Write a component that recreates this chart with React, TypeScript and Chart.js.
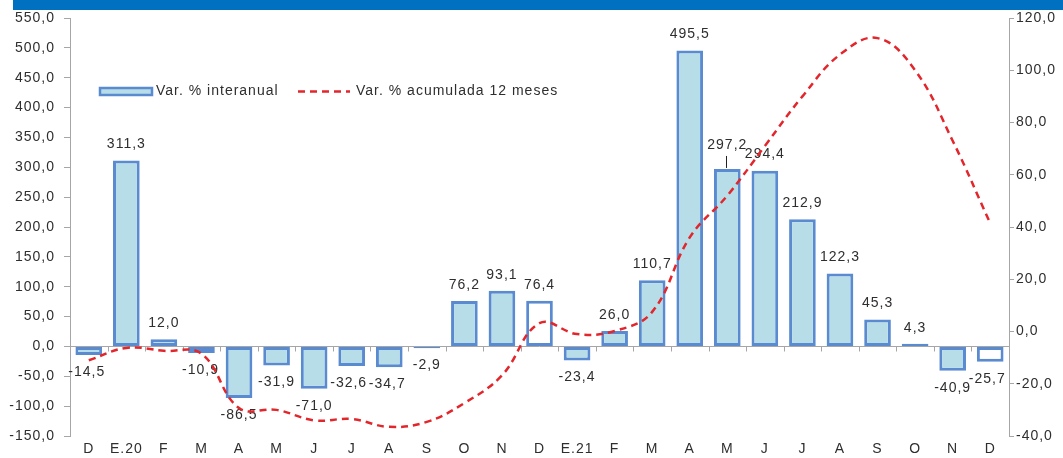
import React, { useEffect, useRef } from 'react';
import { Chart, registerables } from 'chart.js';

Chart.register(...registerables);

const categories = ['D', 'E.20', 'F', 'M', 'A', 'M', 'J', 'J', 'A', 'S', 'O', 'N', 'D', 'E.21', 'F', 'M', 'A', 'M', 'J', 'J', 'A', 'S', 'O', 'N', 'D'];
const interanual = [-14.5, 311.3, 12.0, -10.9, -86.5, -31.9, -71.0, -32.6, -34.7, -2.9, 76.2, 93.1, 76.4, -23.4, 26.0, 110.7, 495.5, 297.2, 294.4, 212.9, 122.3, 45.3, 4.3, -40.9, -25.7];
const acumulada = [-11, -6.3, -7.4, -8.5, -29.3, -30, -34, -33.5, -36.5, -34.6, -27.4, -16.8, 3.2, -1, 0.2, 7.5, 36, 52, 71, 90, 106, 112.3, 100, 73, 41.4];
const openBars = [12, 24];
const leftAxis = { min: -150, max: 550, step: 50 };
const rightAxis = { min: -40, max: 120, step: 20 };
const seriesNames = ['Var. % interanual', 'Var. % acumulada 12 meses'];

const FONT = '"Liberation Sans", Arial, sans-serif';
const TEXT = '#2e2e2e';
const AXIS = '#a6a6a6';
const BAR_FILL = '#b7dee8';
const BAR_BORDER = '#5a8bd0';
const RED = '#e3262b';

const fmt = (v: number) => Number(v).toFixed(1).replace('.', ',');

export default function App() {
  const ref = useRef<HTMLCanvasElement>(null);

  useEffect(() => {
    const canvas = ref.current!;

    const spacing = {
      id: 'spacing',
      beforeLayout(c: any) { c.ctx.letterSpacing = '1px'; },
      beforeDraw(c: any) { c.ctx.letterSpacing = '1px'; },
    };

    const zeroLine = {
      id: 'zeroLine',
      beforeDatasetsDraw(c: any) {
        const { ctx, chartArea, scales } = c;
        const y0 = Math.round(scales.y.getPixelForValue(0)) + 0.5;
        ctx.save();
        ctx.strokeStyle = AXIS;
        ctx.lineWidth = 1;
        ctx.beginPath();
        ctx.moveTo(chartArea.left, y0);
        ctx.lineTo(chartArea.right, y0);
        const n = categories.length;
        for (let i = 0; i <= n; i++) {
          let x;
          if (i === 0) x = chartArea.left;
          else if (i === n) x = chartArea.right;
          else x = (scales.x.getPixelForValue(i - 1) + scales.x.getPixelForValue(i)) / 2;
          x = Math.round(x) + 0.5;
          ctx.moveTo(x, y0);
          ctx.lineTo(x, y0 + 5);
        }
        ctx.stroke();
        ctx.restore();
      },
    };

    const labelShift: Record<number, [number, number]> = {
      0: [-2, 0], 3: [-1, 0], 7: [-3, 0], 8: [-2, 0], 24: [-3, 0],
    };

    const dataLabels = {
      id: 'dataLabels',
      afterDatasetDraw(c: any, args: any) {
        if (args.index !== 0) return;
        const { ctx } = c;
        const meta = c.getDatasetMeta(0);
        ctx.save();
        ctx.font = `14px ${FONT}`;
        ctx.fillStyle = TEXT;
        ctx.textAlign = 'center';
        ctx.textBaseline = 'middle';
        meta.data.forEach((el: any, i: number) => {
          const v = interanual[i];
          const [dx, dy] = labelShift[i] || [0, 0];
          let ty = v >= 0 ? el.y - 16 : el.y + 17;
          if (i === 17) {
            ty = el.y - 24;
            ctx.strokeStyle = '#222';
            ctx.lineWidth = 1;
            ctx.beginPath();
            ctx.moveTo(Math.round(el.x) - 0.5, el.y - 1);
            ctx.lineTo(Math.round(el.x) - 0.5, el.y - 13);
            ctx.stroke();
          }
          ctx.fillText(fmt(v), el.x + dx, ty + dy);
        });
        ctx.restore();
      },
    };

    const legendBox = {
      id: 'legendBox',
      afterDraw(c: any) {
        const { ctx } = c;
        ctx.save();
        ctx.letterSpacing = '1px';
        ctx.fillStyle = BAR_FILL;
        ctx.fillRect(100, 88, 52, 7);
        ctx.strokeStyle = BAR_BORDER;
        ctx.lineWidth = 2.5;
        ctx.strokeRect(100, 88, 52, 7);
        ctx.font = `14px ${FONT}`;
        ctx.fillStyle = TEXT;
        ctx.textBaseline = 'middle';
        ctx.textAlign = 'left';
        ctx.fillText(seriesNames[0], 156, 91);
        ctx.strokeStyle = RED;
        ctx.lineWidth = 2.5;
        ctx.setLineDash([7, 5]);
        ctx.beginPath();
        ctx.moveTo(298, 91.5);
        ctx.lineTo(350, 91.5);
        ctx.stroke();
        ctx.setLineDash([]);
        ctx.fillText(seriesNames[1], 356, 91);
        ctx.restore();
      },
    };

    const tickFont = { family: FONT, size: 14 };

    const chart = new Chart(canvas, {
      type: 'bar',
      data: {
        labels: categories,
        datasets: [
          {
            type: 'bar',
            label: seriesNames[0],
            data: interanual,
            yAxisID: 'y',
            backgroundColor: interanual.map((_, i) => (openBars.includes(i) ? '#ffffff' : BAR_FILL)),
            borderColor: BAR_BORDER,
            borderWidth: 3,
            borderSkipped: false,
            barPercentage: 0.71,
            categoryPercentage: 1,
            order: 1,
          } as any,
          {
            type: 'line',
            label: seriesNames[1],
            data: acumulada,
            yAxisID: 'y1',
            borderColor: RED,
            borderWidth: 2.5,
            borderDash: [7, 5],
            pointRadius: 0,
            tension: 0.4,
            fill: false,
            order: 0,
          } as any,
        ],
      },
      options: {
        responsive: false,
        animation: false,
        devicePixelRatio: 1,
        layout: { padding: { top: 18, left: 0, right: 0, bottom: 0 } },
        plugins: {
          legend: { display: false },
          tooltip: { enabled: false },
        },
        scales: {
          x: {
            grid: { display: false, drawTicks: false },
            border: { display: false },
            ticks: { font: tickFont, color: TEXT, padding: 5, maxRotation: 0, autoSkip: false },
            afterFit(s: any) { s.height = 22; },
          },
          y: {
            position: 'left',
            min: leftAxis.min,
            max: leftAxis.max,
            ticks: { stepSize: leftAxis.step, callback: (v: any) => fmt(v), font: tickFont, color: TEXT, padding: 9 },
            grid: { drawOnChartArea: false, tickLength: 6, color: AXIS },
            border: { color: AXIS },
            afterFit(s: any) { s.width = 70; },
          },
          y1: {
            position: 'right',
            min: rightAxis.min,
            max: rightAxis.max,
            ticks: { stepSize: rightAxis.step, callback: (v: any) => fmt(v), font: tickFont, color: TEXT, padding: 2 },
            grid: { drawOnChartArea: false, tickLength: 5, color: AXIS },
            border: { color: AXIS },
            afterFit(s: any) { s.width = 54; },
          },
        } as any,
      },
      plugins: [spacing, zeroLine, dataLabels, legendBox],
    });

    return () => chart.destroy();
  }, []);

  return (
    <div style={{ position: 'fixed', left: 0, top: 0, width: 1063, height: 458, background: '#ffffff', overflow: 'hidden' }}>
      <canvas ref={ref} width={1063} height={458} style={{ position: 'absolute', left: 0, top: 0 }} />
      <div style={{ position: 'absolute', left: 13, top: 0, width: 1050, height: 10, background: '#0070c0' }} />
    </div>
  );
}
